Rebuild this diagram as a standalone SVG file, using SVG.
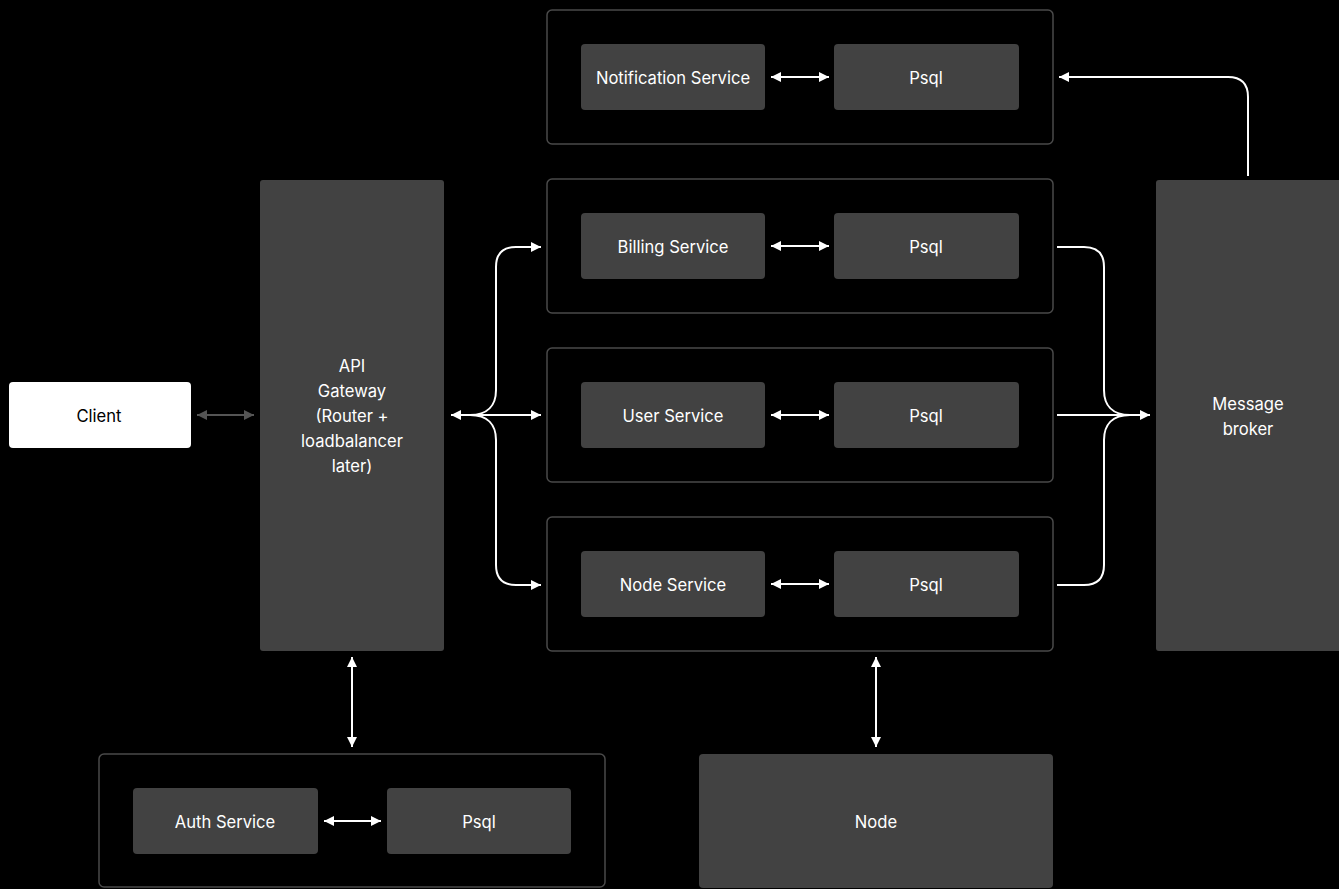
<svg xmlns="http://www.w3.org/2000/svg" width="1339" height="889" viewBox="0 0 1339 889">
<style>
.box{fill:#424242;}
.cont{fill:#000;stroke:#4a4a4a;stroke-width:1.5;}
.t{font-family:Inter,"Liberation Sans",sans-serif;font-size:16.6px;fill:#fff;text-anchor:middle;dominant-baseline:central;}
.c{fill:none;stroke:#fff;stroke-width:2;}
</style>
<defs>
<marker id="ah" viewBox="0 0 10 10" refX="10" refY="5" markerWidth="10" markerHeight="10" markerUnits="userSpaceOnUse" orient="auto-start-reverse"><path d="M0,0 L10,5 L0,10 z" fill="#fff"/></marker>
<marker id="ahg" viewBox="0 0 10 10" refX="10" refY="5" markerWidth="10" markerHeight="10" markerUnits="userSpaceOnUse" orient="auto-start-reverse"><path d="M0,0 L10,5 L0,10 z" fill="#555"/></marker>
</defs>
<rect width="1339" height="889" fill="#000"/>

<g id="client"><rect x="9" y="382" width="182" height="66" rx="4" fill="#fff"/><text class="t" x="99" y="416" style="fill:#000">Client</text></g>

<g id="gateway"><rect class="box" x="260" y="180" width="184" height="471" rx="3"/>
<text class="t" x="352" y="366">API</text><text class="t" x="352" y="391">Gateway</text><text class="t" x="352" y="416">(Router +</text><text class="t" x="352" y="441">loadbalancer</text><text class="t" x="352" y="466">later)</text></g>

<g id="notification-group"><rect class="cont" x="547" y="10" width="506" height="134" rx="5"/>
<rect class="box" x="581" y="44" width="184" height="66" rx="4"/><text class="t" x="673" y="78">Notification Service</text>
<rect class="box" x="834" y="44" width="185" height="66" rx="4"/><text class="t" x="926" y="78">Psql</text></g>

<g id="billing-group"><rect class="cont" x="547" y="179" width="506" height="134" rx="5"/>
<rect class="box" x="581" y="213" width="184" height="66" rx="4"/><text class="t" x="673" y="247">Billing Service</text>
<rect class="box" x="834" y="213" width="185" height="66" rx="4"/><text class="t" x="926" y="247">Psql</text></g>

<g id="user-group"><rect class="cont" x="547" y="348" width="506" height="134" rx="5"/>
<rect class="box" x="581" y="382" width="184" height="66" rx="4"/><text class="t" x="673" y="416">User Service</text>
<rect class="box" x="834" y="382" width="185" height="66" rx="4"/><text class="t" x="926" y="416">Psql</text></g>

<g id="node-service-group"><rect class="cont" x="547" y="517" width="506" height="134" rx="5"/>
<rect class="box" x="581" y="551" width="184" height="66" rx="4"/><text class="t" x="673" y="585">Node Service</text>
<rect class="box" x="834" y="551" width="185" height="66" rx="4"/><text class="t" x="926" y="585">Psql</text></g>

<g id="broker"><rect class="box" x="1156" y="180" width="190" height="471" rx="3"/>
<text class="t" x="1248" y="404">Message</text><text class="t" x="1248" y="429">broker</text></g>

<g id="auth-group"><rect class="cont" x="99" y="754" width="506" height="133" rx="5"/>
<rect class="box" x="133" y="788" width="185" height="66" rx="4"/><text class="t" x="225" y="822">Auth Service</text>
<rect class="box" x="387" y="788" width="184" height="66" rx="4"/><text class="t" x="479" y="822">Psql</text></g>

<g id="node"><rect class="box" x="699" y="754" width="354" height="134" rx="4"/><text class="t" x="876" y="822">Node</text></g>

<g id="connectors">
<path d="M197 415 H254" fill="none" stroke="#555" stroke-width="2" marker-start="url(#ahg)" marker-end="url(#ahg)"/>
<path class="c" d="M771 77 H829" marker-start="url(#ah)" marker-end="url(#ah)"/>
<path class="c" d="M771 246 H829" marker-start="url(#ah)" marker-end="url(#ah)"/>
<path class="c" d="M771 415 H829" marker-start="url(#ah)" marker-end="url(#ah)"/>
<path class="c" d="M771 584 H829" marker-start="url(#ah)" marker-end="url(#ah)"/>
<path class="c" d="M324 821 H381" marker-start="url(#ah)" marker-end="url(#ah)"/>
<path class="c" d="M352 657 V747" marker-start="url(#ah)" marker-end="url(#ah)"/>
<path class="c" d="M876 657 V747" marker-start="url(#ah)" marker-end="url(#ah)"/>
<path class="c" d="M451 415 H541" marker-start="url(#ah)" marker-end="url(#ah)"/>
<path class="c" d="M470 415 C488 415 496 405 496 390 V267 Q496 247 516 247 H541" marker-end="url(#ah)"/>
<path class="c" d="M470 415 C488 415 496 425 496 440 V565 Q496 585 516 585 H541" marker-end="url(#ah)"/>
<path class="c" d="M1057 247 H1084 Q1104 247 1104 267 V390 C1104 405 1112 415 1130 415"/>
<path class="c" d="M1057 585 H1084 Q1104 585 1104 565 V440 C1104 425 1112 415 1130 415"/>
<path class="c" d="M1057 415 H1150" marker-end="url(#ah)"/>
<path class="c" d="M1248 176 V97 Q1248 77 1228 77 H1059" marker-end="url(#ah)"/>
</g>
</svg>
